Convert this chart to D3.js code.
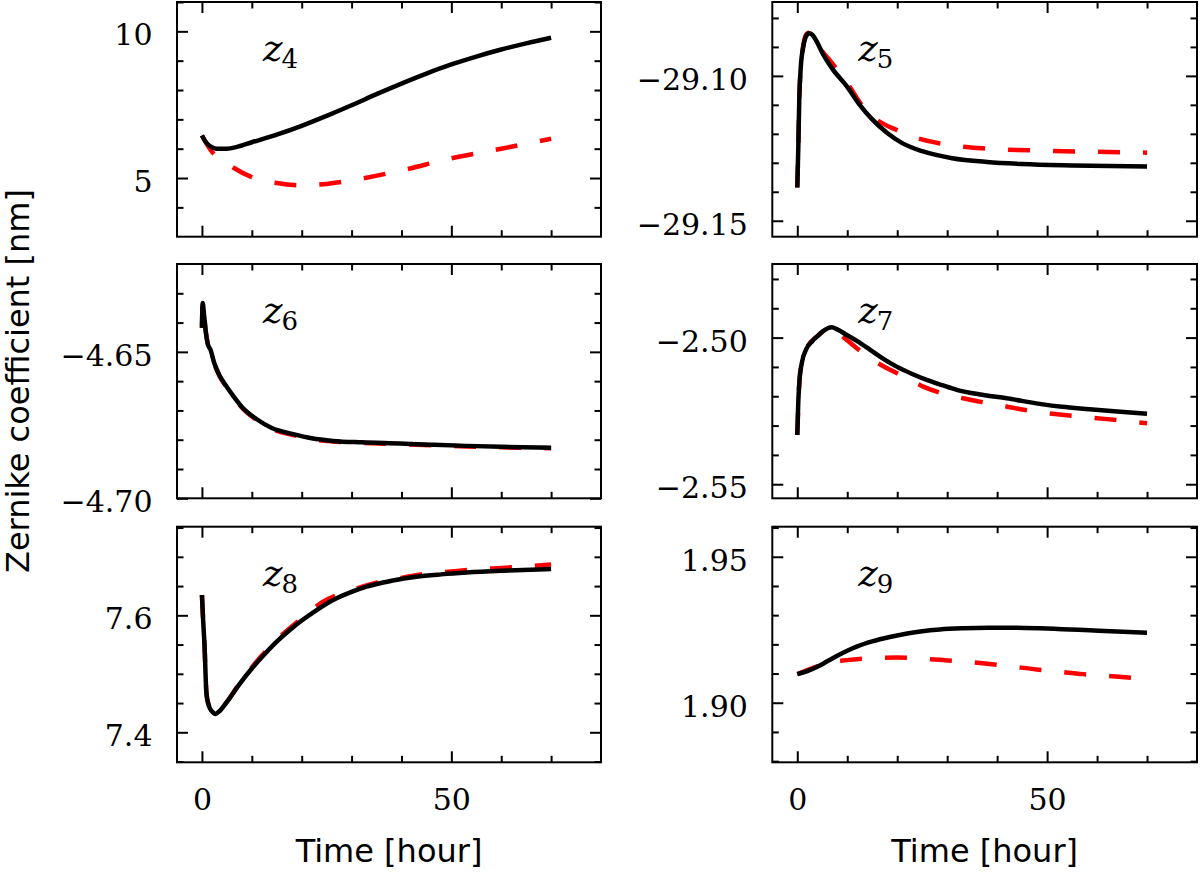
<!DOCTYPE html>
<meta charset="utf-8" />
<style>
    body { margin: 0; background: #fff; }
    .frame { fill: none; stroke: #000; stroke-width: 2px; }
    .tick line { stroke: #000; stroke-width: 2px; }
    .measured { fill: none; stroke: #000; stroke-width: 4.5px; }
    .model { fill: none; stroke: #ff0000; stroke-width: 4.5px; stroke-dasharray: 22 23; }
</style>
<svg width="1200" height="873"></svg>
<script src="https://d3js.org/d3.v7.min.js"></script>
<script>
    // data (time in hours, coefficient in nm)
    var tZ4 = [0, 0.5, 1, 2, 3, 5, 7, 10, 15, 20, 25, 30, 35, 40, 45, 50, 55, 60, 65, 70];
    var z4Measured = [6.45, 6.3, 6.18, 6.05, 6.0, 6.0, 6.06, 6.22, 6.48, 6.78, 7.12, 7.48, 7.86, 8.22, 8.56, 8.87, 9.14, 9.38, 9.59, 9.78];
    var tZ4Model = [0, 1, 2, 5, 10, 15, 20, 25, 30, 40, 50, 60, 70];
    var z4Model = [6.45, 6.15, 5.9, 5.5, 5.03, 4.83, 4.75, 4.8, 4.92, 5.26, 5.67, 6.0, 6.34];

    var tZ5 = [0, 0.2, 0.4, 0.7, 1.2, 1.8, 2.4, 3, 4, 5, 7, 10, 12.5, 15, 18, 21, 25, 31, 38, 45, 55, 70];
    var z5Measured = [-29.1385, -29.125, -29.108, -29.097, -29.09, -29.0862, -29.0853, -29.0858, -29.0885, -29.092, -29.0975, -29.1038, -29.11, -29.115, -29.1197, -29.1232, -29.126, -29.1284, -29.1297, -29.1304, -29.1309, -29.1313];
    var tZ5Model = [0, 0.2, 0.4, 0.7, 1.2, 1.8, 2.4, 3, 5, 6.2, 10, 13.2, 16, 19.9, 24, 28.5, 37, 49, 60, 70];
    var z5Model = [-29.1385, -29.125, -29.108, -29.097, -29.0895, -29.0857, -29.085, -29.0855, -29.0915, -29.094, -29.1025, -29.1107, -29.1152, -29.1187, -29.1215, -29.1233, -29.125, -29.1258, -29.1262, -29.1265];

    var tZ6 = [0, 0.15, 0.4, 0.8, 1.2, 1.7, 2.5, 3.5, 5, 6.3, 8, 11, 14, 18.3, 22, 26.3, 32, 39.7, 46, 53, 60, 70];
    var z6Measured = [-4.6418, -4.6333, -4.637, -4.6435, -4.6475, -4.6492, -4.654, -4.658, -4.662, -4.6651, -4.6688, -4.673, -4.676, -4.6781, -4.6795, -4.6804, -4.6809, -4.6813, -4.6817, -4.6821, -4.6824, -4.6827];
    var tZ6Model = [0, 0.15, 0.4, 0.8, 1.2, 1.7, 2.5, 3.5, 5, 6.3, 8, 11, 14, 18.3, 22, 26.3, 32, 39.7, 46, 53, 60, 70];
    var z6Model = [-4.6418, -4.6333, -4.637, -4.6435, -4.6475, -4.6493, -4.6541, -4.6582, -4.6622, -4.6653, -4.669, -4.6733, -4.6763, -4.6784, -4.6798, -4.6806, -4.6811, -4.6815, -4.6819, -4.6823, -4.6826, -4.6829];

    var tZ7 = [0, 0.2, 0.4, 0.9, 1.9, 3, 3.9, 5, 6.9, 8, 9.9, 12, 14.6, 17, 19.9, 23, 25.9, 29, 31.9, 37, 41.9, 48.5, 53, 58.5, 64, 70];
    var z7Measured = [-2.5332, -2.522, -2.5156, -2.5087, -2.5036, -2.5012, -2.4997, -2.498, -2.4965, -2.4972, -2.4991, -2.5012, -2.5042, -2.507, -2.5099, -2.5124, -2.5144, -2.5162, -2.5178, -2.5195, -2.5207, -2.5226, -2.5236, -2.5244, -2.5252, -2.526];
    var tZ7Model = [0, 0.4, 0.9, 1.9, 3.9, 6.9, 9, 11.9, 14.5, 17.9, 21, 25.2, 29, 33.2, 37, 41.2, 45, 49.2, 53, 57.2, 62, 67.2, 70];
    var z7Model = [-2.5332, -2.5156, -2.5087, -2.5036, -2.4997, -2.4967, -2.4995, -2.5036, -2.507, -2.5104, -2.513, -2.5167, -2.519, -2.5207, -2.522, -2.5233, -2.5245, -2.5256, -2.5263, -2.527, -2.5278, -2.5287, -2.5292];

    var tZ8 = [0, 0.25, 0.5, 0.9, 1.3, 1.6, 2.2, 2.7, 3.5, 5, 7.5, 10, 12.5, 15, 17.5, 20, 23, 26.3, 30, 33, 38, 43, 48, 53, 60, 70];
    var z8Measured = [7.6347, 7.59, 7.5521, 7.4667, 7.448, 7.441, 7.434, 7.4313, 7.436, 7.452, 7.482, 7.509, 7.533, 7.555, 7.574, 7.591, 7.609, 7.6262, 7.64, 7.649, 7.659, 7.666, 7.67, 7.673, 7.676, 7.679];
    var tZ8Model = [0, 0.25, 0.5, 0.9, 1.3, 1.6, 2.2, 2.7, 3.5, 5, 7.5, 10, 15, 20, 24.3, 30, 35, 40, 44.3, 50, 53.3, 62, 70];
    var z8Model = [7.6347, 7.59, 7.5521, 7.4667, 7.448, 7.441, 7.434, 7.4313, 7.436, 7.452, 7.483, 7.511, 7.558, 7.595, 7.6232, 7.643, 7.6557, 7.664, 7.6706, 7.675, 7.6774, 7.682, 7.687];

    var tZ9 = [0, 2, 4, 6, 8, 10, 12, 15, 18.5, 22, 25, 28.5, 33, 38.5, 43, 48.5, 53, 58.5, 64, 70];
    var z9Measured = [1.9098, 1.9108, 1.9123, 1.9142, 1.9161, 1.9178, 1.9193, 1.921, 1.9225, 1.9237, 1.9245, 1.9251, 1.9255, 1.9257, 1.9257, 1.9255, 1.9252, 1.9248, 1.9244, 1.924];
    var tZ9Model = [0, 2.5, 5.3, 9.9, 14, 19.9, 24, 29.3, 34, 38.5, 43, 47.9, 52, 57.2, 62, 67.9, 70];
    var z9Model = [1.9098, 1.9115, 1.9133, 1.9146, 1.9152, 1.9155, 1.9152, 1.9146, 1.914, 1.9133, 1.9124, 1.9114, 1.9107, 1.9098, 1.9092, 1.9084, 1.9082];

    // axis settings
    var xDomain = [-5, 80];
    var xMajor = [0, 50];
    var xMinor = [10, 20, 30, 40, 60, 70];

    var panels = [
        { name: "4", t: tZ4, meas: z4Measured, tm: tZ4Model, model: z4Model, dom: [3, 11], major: [5, 10], minor: [4, 6, 7, 8, 9, 11], fmt: "d" },
        { name: "5", t: tZ5, meas: z5Measured, tm: tZ5Model, model: z5Model, dom: [-29.1555, -29.0745], major: [-29.15, -29.1], minor: [-29.14, -29.13, -29.12, -29.11, -29.09, -29.08], fmt: ".2f" },
        { name: "6", t: tZ6, meas: z6Measured, tm: tZ6Model, model: z6Model, dom: [-4.7, -4.62], major: [-4.7, -4.65], minor: [-4.69, -4.68, -4.67, -4.66, -4.64, -4.63], fmt: ".2f" },
        { name: "7", t: tZ7, meas: z7Measured, tm: tZ7Model, model: z7Model, dom: [-2.5548, -2.4749], major: [-2.55, -2.5], minor: [-2.54, -2.53, -2.52, -2.51, -2.49, -2.48], fmt: ".2f" },
        { name: "8", t: tZ8, meas: z8Measured, tm: tZ8Model, model: z8Model, dom: [7.3487, 7.7515], major: [7.4, 7.6], minor: [7.35, 7.45, 7.5, 7.55, 7.65, 7.7, 7.75], fmt: ".1f" },
        { name: "9", t: tZ9, meas: z9Measured, tm: tZ9Model, model: z9Model, dom: [1.8796, 1.9603], major: [1.9, 1.95], minor: [1.88, 1.89, 1.91, 1.92, 1.93, 1.94, 1.96], fmt: ".2f" }
    ];

    var cols = [[177, 601], [772.3, 1197]];
    var rows = [[2, 236.7], [264, 498.3], [526.7, 762.3]];

    var svg = d3.select("svg");
    var serif = "DejaVu Serif";
    var sans = "DejaVu Sans";

    panels.forEach(function (p, i) {
        var c = cols[i % 2];
        var r = rows[Math.floor(i / 2)];
        var w = c[1] - c[0];
        var h = r[1] - r[0];

        var x = d3.scaleLinear().domain(xDomain).range([0, w]);
        var y = d3.scaleLinear().domain(p.dom).range([h, 0]);

        var g = svg.append("g").attr("transform", "translate(" + c[0] + "," + r[0] + ")");

        // clip lines to the axes box
        g.append("clipPath").attr("id", "clip" + i)
            .append("rect").attr("width", w).attr("height", h);

        var line = d3.line()
            .x(function (d) { return x(d[0]); })
            .y(function (d) { return y(d[1]); })
            .curve(d3.curveMonotoneX);

        var plot = g.append("g").attr("clip-path", "url(#clip" + i + ")");
        plot.append("path")
            .attr("class", "model")
            .attr("d", line(d3.zip(p.tm, p.model)));
        plot.append("path")
            .attr("class", "measured")
            .attr("d", line(d3.zip(p.t, p.meas)));

        // inward ticks on all four sides
        function ticks(axis, vals, size, fmt) {
            return axis.tickValues(vals).tickSize(-size).tickSizeOuter(0)
                .tickFormat(fmt ? d3.format(fmt) : "");
        }

        var left = g.append("g").call(ticks(d3.axisLeft(y), p.major, 11, p.fmt).tickPadding(24.5));
        g.append("g").call(ticks(d3.axisLeft(y), p.minor, 6.5, null));
        g.append("g").attr("transform", "translate(" + w + ",0)").call(ticks(d3.axisRight(y), p.major, 11, null));
        g.append("g").attr("transform", "translate(" + w + ",0)").call(ticks(d3.axisRight(y), p.minor, 6.5, null));

        var showX = i >= 4;
        g.append("g").attr("transform", "translate(0," + h + ")")
            .call(ticks(d3.axisBottom(x), xMajor, 11, showX ? "d" : null).tickPadding(26.4));
        g.append("g").attr("transform", "translate(0," + h + ")").call(ticks(d3.axisBottom(x), xMinor, 6.5, null));
        g.append("g").call(ticks(d3.axisTop(x), xMajor, 11, null));
        g.append("g").call(ticks(d3.axisTop(x), xMinor, 6.5, null));

        g.selectAll(".domain").remove();
        left.selectAll("text").attr("dy", "0.45em");
        g.selectAll(".tick text").attr("font-family", serif).attr("font-size", 30).attr("fill", "#000");

        g.append("rect").attr("class", "frame").attr("width", w).attr("height", h);

        // panel label z_n
        var lab = g.append("text")
            .attr("x", 86)
            .attr("y", 59)
            .attr("font-family", serif)
            .attr("fill", "#000");
        lab.append("tspan").attr("font-style", "italic").attr("font-size", 37).text("z");
        lab.append("tspan").attr("font-size", 26).attr("dy", 7).attr("dx", -1).text(p.name);

        if (showX) {
            svg.append("text")
                .attr("x", (c[0] + c[1]) / 2)
                .attr("y", 862)
                .attr("text-anchor", "middle")
                .attr("font-family", sans)
                .attr("font-size", 32)
                .text("Time [hour]");
        }
    });

    svg.append("text")
        .attr("transform", "translate(29,381) rotate(-90)")
        .attr("text-anchor", "middle")
        .attr("font-family", sans)
        .attr("font-size", 32)
        .text("Zernike coefficient [nm]");
</script>
